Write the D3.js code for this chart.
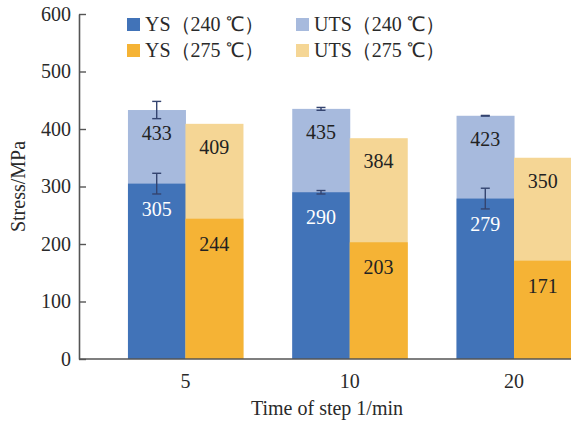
<!DOCTYPE html>
<html>
<head>
<meta charset="utf-8">
<script src="https://cdn.jsdelivr.net/npm/d3@7"></script>
<style>
  html, body { margin: 0; padding: 0; background: #fff; }
  svg { display: block; }
  text { font-family: "Liberation Serif", "Times New Roman", serif; }
</style>
</head>
<body>
<svg id="chart" width="571" height="423"></svg>
<script>
// Step times (1/min)
const categories = ["5", "10", "20"];
// Yield and ultimate tensile strength (MPa) at two temperatures
const ys240 = [305, 290, 279];
const uts240 = [433, 435, 423];
const ys275 = [244, 203, 171];
const uts275 = [409, 384, 350];
// Standard deviations for the 240 ℃ series
const ys240Err = [18, 3, 18];
const uts240Err = [15, 2.5, 0.6];
const yTicks = [0, 100, 200, 300, 400, 500, 600];
const temps = ["240", "275"];

const legendItems = [
  { label: "YS（240 ℃）", color: "#4173b8" },
  { label: "UTS（240 ℃）", color: "#a7badd" },
  { label: "YS（275 ℃）", color: "#f5b335" },
  { label: "UTS（275 ℃）", color: "#f5d695" }
];

const colors = {
  ys240: "#4173b8", uts240: "#a7badd",
  ys275: "#f5b335", uts275: "#f5d695"
};

const svg = d3.select("#chart");
const plotLeft = 79, plotBottom = 359, plotTop = 14;

const y = d3.scaleLinear().domain([0, 600]).range([plotBottom, plotTop]);
const x = d3.scaleBand().domain(categories)
  .range([plotLeft, 620.5]).paddingInner(0.3).paddingOuter(0.298);
const xs = d3.scaleBand().domain(temps).range([0, x.bandwidth()]);

const rows = categories.map((c, i) => ({
  cat: c,
  bars: [
    { t: "240", ys: ys240[i], uts: uts240[i], ysErr: ys240Err[i], utsErr: uts240Err[i], ysC: colors.ys240, utsC: colors.uts240, ysText: "#ffffff" },
    { t: "275", ys: ys275[i], uts: uts275[i], ysErr: null, utsErr: null, ysC: colors.ys275, utsC: colors.uts275, ysText: "#222" }
  ]
}));

const g = svg.append("g");
const groups = g.selectAll("g.grp").data(rows).join("g")
  .attr("transform", d => `translate(${x(d.cat)},0)`);

const bars = groups.selectAll("g.bar").data(d => d.bars).join("g");

// UTS behind, YS on top
bars.append("rect")
  .attr("x", d => xs(d.t)).attr("width", xs.bandwidth() + 0.5)
  .attr("y", d => y(d.uts)).attr("height", d => y(0) - y(d.uts))
  .attr("fill", d => d.utsC);
bars.append("rect")
  .attr("x", d => xs(d.t)).attr("width", xs.bandwidth() + 0.5)
  .attr("y", d => y(d.ys)).attr("height", d => y(0) - y(d.ys))
  .attr("fill", d => d.ysC);

// value labels
bars.append("text")
  .attr("x", d => xs(d.t) + xs.bandwidth() / 2)
  .attr("y", d => y(d.uts) + 30)
  .attr("text-anchor", "middle").attr("font-size", 20).attr("fill", "#222")
  .text(d => d.uts);
bars.append("text")
  .attr("x", d => xs(d.t) + xs.bandwidth() / 2)
  .attr("y", d => y(d.ys) + 32)
  .attr("text-anchor", "middle").attr("font-size", 20).attr("fill", d => d.ysText)
  .text(d => d.ys);

// error bars
const errs = [];
rows.forEach(r => r.bars.forEach(b => {
  if (b.ysErr != null) errs.push({ cat: r.cat, t: b.t, v: b.ys, e: b.ysErr });
  if (b.utsErr != null) errs.push({ cat: r.cat, t: b.t, v: b.uts, e: b.utsErr });
}));
const eg = g.selectAll("g.err").data(errs).join("g")
  .attr("transform", d => `translate(${x(d.cat) + xs(d.t) + xs.bandwidth() / 2},0)`)
  .attr("stroke", "#34446f").attr("stroke-width", 1.4);
eg.append("line").attr("y1", d => y(d.v + d.e)).attr("y2", d => y(d.v - d.e));
eg.append("line").attr("x1", -4.5).attr("x2", 4.5).attr("y1", d => y(d.v + d.e)).attr("y2", d => y(d.v + d.e));
eg.append("line").attr("x1", -4.5).attr("x2", 4.5).attr("y1", d => y(d.v - d.e)).attr("y2", d => y(d.v - d.e));

// axes
const yAxis = d3.axisLeft(y).tickValues(yTicks).tickSizeInner(-7).tickSizeOuter(0).tickPadding(8);
const ya = svg.append("g").attr("transform", `translate(${plotLeft},0)`).call(yAxis);
ya.selectAll("text").attr("font-size", 20).attr("fill", "#2a2a2a")
  .style("font-family", '"Liberation Serif", serif');
ya.selectAll("line").attr("stroke", "#555").attr("stroke-width", 1.4);
ya.select(".domain").attr("stroke", "#555").attr("stroke-width", 1.6);

const xAxis = d3.axisBottom(x).tickSize(0).tickPadding(15);
const xa = svg.append("g").attr("transform", `translate(0,${plotBottom})`).call(xAxis);
xa.selectAll("text").attr("font-size", 20).attr("fill", "#2a2a2a")
  .style("font-family", '"Liberation Serif", serif');
xa.select(".domain").attr("stroke", "#555").attr("stroke-width", 1.6)
  .attr("d", `M${plotLeft},0H571`);

// axis titles
svg.append("text").attr("x", 327).attr("y", 415)
  .attr("text-anchor", "middle").attr("font-size", 20).attr("fill", "#2a2a2a")
  .text("Time of step 1/min");
svg.append("text")
  .attr("transform", `translate(25,${(plotTop + plotBottom) / 2}) rotate(-90)`)
  .attr("text-anchor", "middle").attr("font-size", 20).attr("fill", "#2a2a2a")
  .text("Stress/MPa");

// legend
const legPos = [[127, 18], [296, 18], [127, 44], [296, 44]];
const lg = svg.selectAll("g.leg").data(legendItems).join("g")
  .attr("transform", (d, i) => `translate(${legPos[i][0]},${legPos[i][1]})`);
lg.append("rect").attr("width", 13).attr("height", 13).attr("fill", d => d.color);
lg.append("text").attr("x", 18).attr("y", 13).attr("font-size", 20).attr("fill", "#2a2a2a")
  .text(d => d.label);
</script>
</body>
</html>
